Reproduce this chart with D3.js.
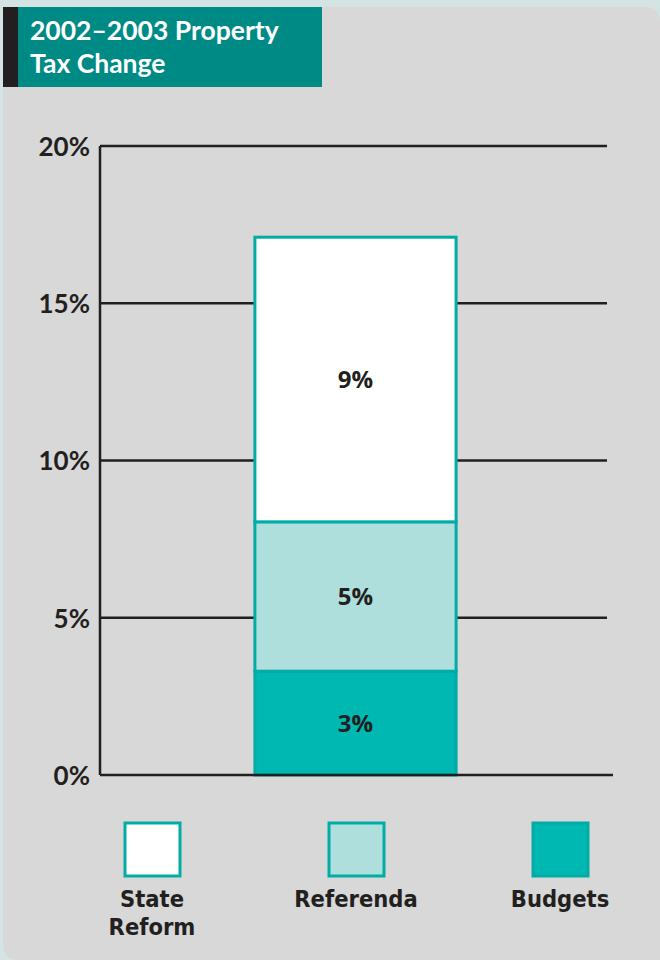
<!DOCTYPE html>
<html>
<head>
<meta charset="utf-8">
<script src="https://cdn.jsdelivr.net/npm/d3@7"></script>
<style>
  html, body { margin: 0; padding: 0; background: #d4e3e3; }
  svg { display: block; font-family: Lato, "Open Sans", sans-serif; }
</style>
</head>
<body>
<div id="main"></div>
<script>
// data
const category = ['2002–2003'];
const seriesKeys = ['Budgets', 'Referenda', 'State Reform'];
const seriesValues = [3.3, 4.75, 9.05];
const segmentLabels = ['3%', '5%', '9%'];
const yTicks = [0, 5, 10, 15, 20];
const legendKeys = ['State Reform', 'Referenda', 'Budgets'];
const titleLines = ['2002–2003 Property', 'Tax Change'];

// colors
const panelColor = '#d7d8d7';
const titleColor = '#008a86';
const darkColor = '#231f20';
const strokeTeal = '#00aca5';
const fills = {
    'State Reform': '#ffffff',
    'Referenda': '#aedfdc',
    'Budgets': '#00b8b2'
};

const w = 660;
const h = 960;

const svg = d3.select('#main')
    .append('svg')
    .attr('width', w)
    .attr('height', h)

// panel with rounded top-right / bottom-left
const px0 = 3, py0 = 7, px1 = 660, py1 = 960, r = 16;
svg.append('path')
    .attr('d', `M${px0},${py0} L${px1 - r},${py0} Q${px1},${py0} ${px1},${py0 + r} L${px1},${py1} L${px0 + r},${py1} Q${px0},${py1} ${px0},${py1 - r} Z`)
    .attr('fill', panelColor)

// title box
svg.append('rect')
    .attr('x', 3).attr('y', 7)
    .attr('width', 319).attr('height', 80)
    .attr('fill', titleColor)
svg.append('rect')
    .attr('x', 3).attr('y', 7)
    .attr('width', 15).attr('height', 80)
    .attr('fill', darkColor)

svg.selectAll('.title')
    .data(titleLines)
    .enter()
    .append('text')
    .attr('class', 'title')
    .attr('x', 30)
    .attr('y', (d, i) => 40 + i * 33)
    .attr('fill', '#ffffff')
    .style('font-size', '26.5px')
    .style('font-weight', 700)
    .text(d => d)

// scales
const y = d3.scaleLinear()
    .domain([0, 20])
    .range([775, 146])

const x = d3.scaleBand()
    .domain(category)
    .range([100, 611])
    .padding(0.435)

// gridlines
svg.selectAll('.grid')
    .data(yTicks.filter(d => d > 0))
    .enter()
    .append('line')
    .attr('class', 'grid')
    .attr('x1', 100).attr('x2', 607)
    .attr('y1', d => y(d)).attr('y2', d => y(d))
    .attr('stroke', darkColor)
    .attr('stroke-width', 2.5)

// y axis labels
const yAxis = d3.axisLeft(y)
    .tickValues(yTicks)
    .tickFormat(d => d + '%')
    .tickSize(0)
    .tickPadding(10)

const gy = svg.append('g')
    .attr('transform', 'translate(100,0)')
    .call(yAxis)
gy.select('.domain').remove()
gy.selectAll('text')
    .attr('fill', darkColor)
    .attr('dy', '0.36em')
    .style('font-family', 'Lato, sans-serif')
    .style('font-size', '26px')
    .style('font-weight', 700)

svg.append('line')
    .attr('x1', 100).attr('x2', 100)
    .attr('y1', y(20)).attr('y2', y(0))
    .attr('stroke', darkColor)
    .attr('stroke-width', 2.5)

// stacked bar
const row = { cat: category[0] };
seriesKeys.forEach((k, i) => row[k] = seriesValues[i]);
const stacked = d3.stack().keys(seriesKeys)([row]);

const segs = svg.selectAll('.seg')
    .data(stacked)
    .enter()
    .append('g')
    .attr('class', 'seg')

segs.append('rect')
    .attr('x', x(category[0]))
    .attr('width', x.bandwidth())
    .attr('y', d => y(d[0][1]))
    .attr('height', d => y(d[0][0]) - y(d[0][1]))
    .attr('fill', d => fills[d.key])
    .attr('stroke', strokeTeal)
    .attr('stroke-width', 3)

segs.append('text')
    .attr('x', x(category[0]) + x.bandwidth() / 2)
    .attr('y', d => (y(d[0][0]) + y(d[0][1])) / 2)
    .attr('dy', '0.36em')
    .attr('text-anchor', 'middle')
    .attr('fill', darkColor)
    .style('font-family', '"Open Sans", sans-serif')
    .style('font-size', '24px')
    .style('font-weight', 700)
    .text((d, i) => segmentLabels[i])

// baseline
svg.append('line')
    .attr('x1', 100).attr('x2', 613)
    .attr('y1', y(0)).attr('y2', y(0))
    .attr('stroke', darkColor)
    .attr('stroke-width', 2.5)

// legend
const lx = d3.scalePoint()
    .domain(legendKeys)
    .range([152, 560])

const leg = svg.selectAll('.legend')
    .data(legendKeys)
    .enter()
    .append('g')
    .attr('class', 'legend')
    .attr('transform', d => `translate(${lx(d)},0)`)

leg.append('rect')
    .attr('x', -27).attr('y', 823)
    .attr('width', 55).attr('height', 53)
    .attr('fill', d => fills[d])
    .attr('stroke', strokeTeal)
    .attr('stroke-width', 3)

// one text per legend entry, wrapped into lines with tspans
const legText = leg.append('text')
    .attr('y', 907)
    .attr('text-anchor', 'middle')
    .attr('fill', darkColor)
    .style('font-family', '"DejaVu Sans Condensed", "DejaVu Sans", sans-serif')
    .style('font-stretch', 'condensed')
    .style('font-size', '23.5px')
    .style('font-weight', 700)

legText.selectAll('tspan')
    .data(d => d.split(' '))
    .enter()
    .append('tspan')
    .attr('x', 0)
    .attr('dy', (t, i) => i === 0 ? 0 : 28)
    .text(t => t)
</script>
</body>
</html>
